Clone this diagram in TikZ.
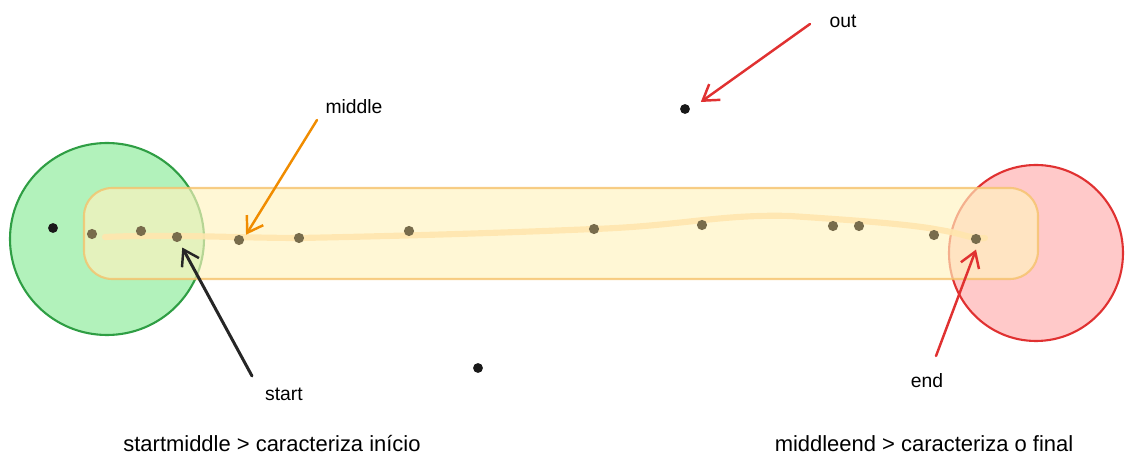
\documentclass[tikz,border=0pt]{standalone}
\usepackage{fontspec}
\setmainfont{Liberation Sans}
\usetikzlibrary{arrows.meta}

\definecolor{greenfill}{HTML}{B2F2BB}
\definecolor{greenline}{HTML}{2F9E44}
\definecolor{redfill}{HTML}{FFC9C9}
\definecolor{redline}{HTML}{E03131}
\definecolor{bandfill}{HTML}{FFF3BF}
\definecolor{bandline}{HTML}{F5C26B}
\definecolor{trail}{HTML}{FFE6AE}
\definecolor{olive}{HTML}{786C4C}
\definecolor{orangearrow}{HTML}{F08C00}

\tikzset{
	pt/.style={circle, fill=black!90, inner sep=0pt, minimum size=5.6pt},
	sample/.style={circle, fill=olive, inner sep=0pt, minimum size=5.8pt},
	lbl/.style={font=\fontsize{11}{13}\selectfont},
	caption/.style={font=\fontsize{12.5}{15}\selectfont},
	sketcharrow/.style={line width=1.4pt, -{Straight Barb[length=8.5pt, width=11pt, line width=1.4pt]}, line cap=round},
}

\begin{document}
\begin{tikzpicture}[x=0.02cm, y=-0.02cm]
			\useasboundingbox (0,0) rectangle (1134,469);

			\draw[greenline, fill=greenfill, line width=1.2pt] (107,239) ellipse [x radius=97, y radius=96];
			\draw[redline, fill=redfill, line width=1.2pt] (1036,253) ellipse [x radius=87, y radius=88];

			\draw[bandline, fill=bandfill, line width=1.2pt, fill opacity=0.65, draw opacity=0.8, rounded corners=16] (84,188) rectangle (1038,279);

			\draw[trail, line width=3.5pt, line cap=round, opacity=0.9] (105,237) .. controls (170,234) and (240,238) .. (300,238) .. controls (400,236) and (500,233) .. (594,229) .. controls (680,226) and (720,214) .. (790,216) .. controls (850,220) and (910,224) .. (940,230) .. controls (960,233) and (975,240) .. (985,238);

			\node[pt] (ptin) at (53,228) {};
			\node[pt] (ptout) at (685,109) {};
			\node[pt] (ptbelow) at (478,368) {};

			\node[sample] (s1) at (92,234) {};
			\node[sample] (s2) at (141,231) {};
			\node[sample] (sstart) at (177,237) {};
			\node[sample] (smiddle) at (239,240) {};
			\node[sample] (s5) at (299,238) {};
			\node[sample] (s6) at (409,231) {};
			\node[sample] (s7) at (594,229) {};
			\node[sample] (s8) at (702,225) {};
			\node[sample] (s9) at (833,226) {};
			\node[sample] (s10) at (859,226) {};
			\node[sample] (s11) at (934,235) {};
			\node[sample] (send) at (976,239) {};

			\node[lbl] (middlelbl) at (354,107) {middle};
			\node[lbl] (startlbl) at (284,394) {start};
			\node[lbl] (endlbl) at (927,381) {end};
			\node[lbl] (outlbl) at (843,21) {out};

			\coordinate (middletail) at (317,120);
			\coordinate (starttail) at (252,376);
			\coordinate (endtail) at (936,356);
			\coordinate (outtail) at (810,24);

			\draw[sketcharrow, orangearrow] (middletail) -- ([shift={(4pt,3pt)}]smiddle.center);
			\draw[sketcharrow, black!85, line width=1.7pt] (starttail) -- ([shift={(3pt,-6pt)}]sstart.center);
			\draw[sketcharrow, redline] (endtail) -- ([shift={(0pt,-6pt)}]send.center);
			\draw[sketcharrow, redline] (outtail) -- ([shift={(9pt,4pt)}]ptout.center);

			\node[caption] (startcap) at (272,444) {startmiddle > caracteriza início};
			\node[caption] (endcap) at (924,444) {middleend > caracteriza o final};
		\end{tikzpicture}
\end{document}
